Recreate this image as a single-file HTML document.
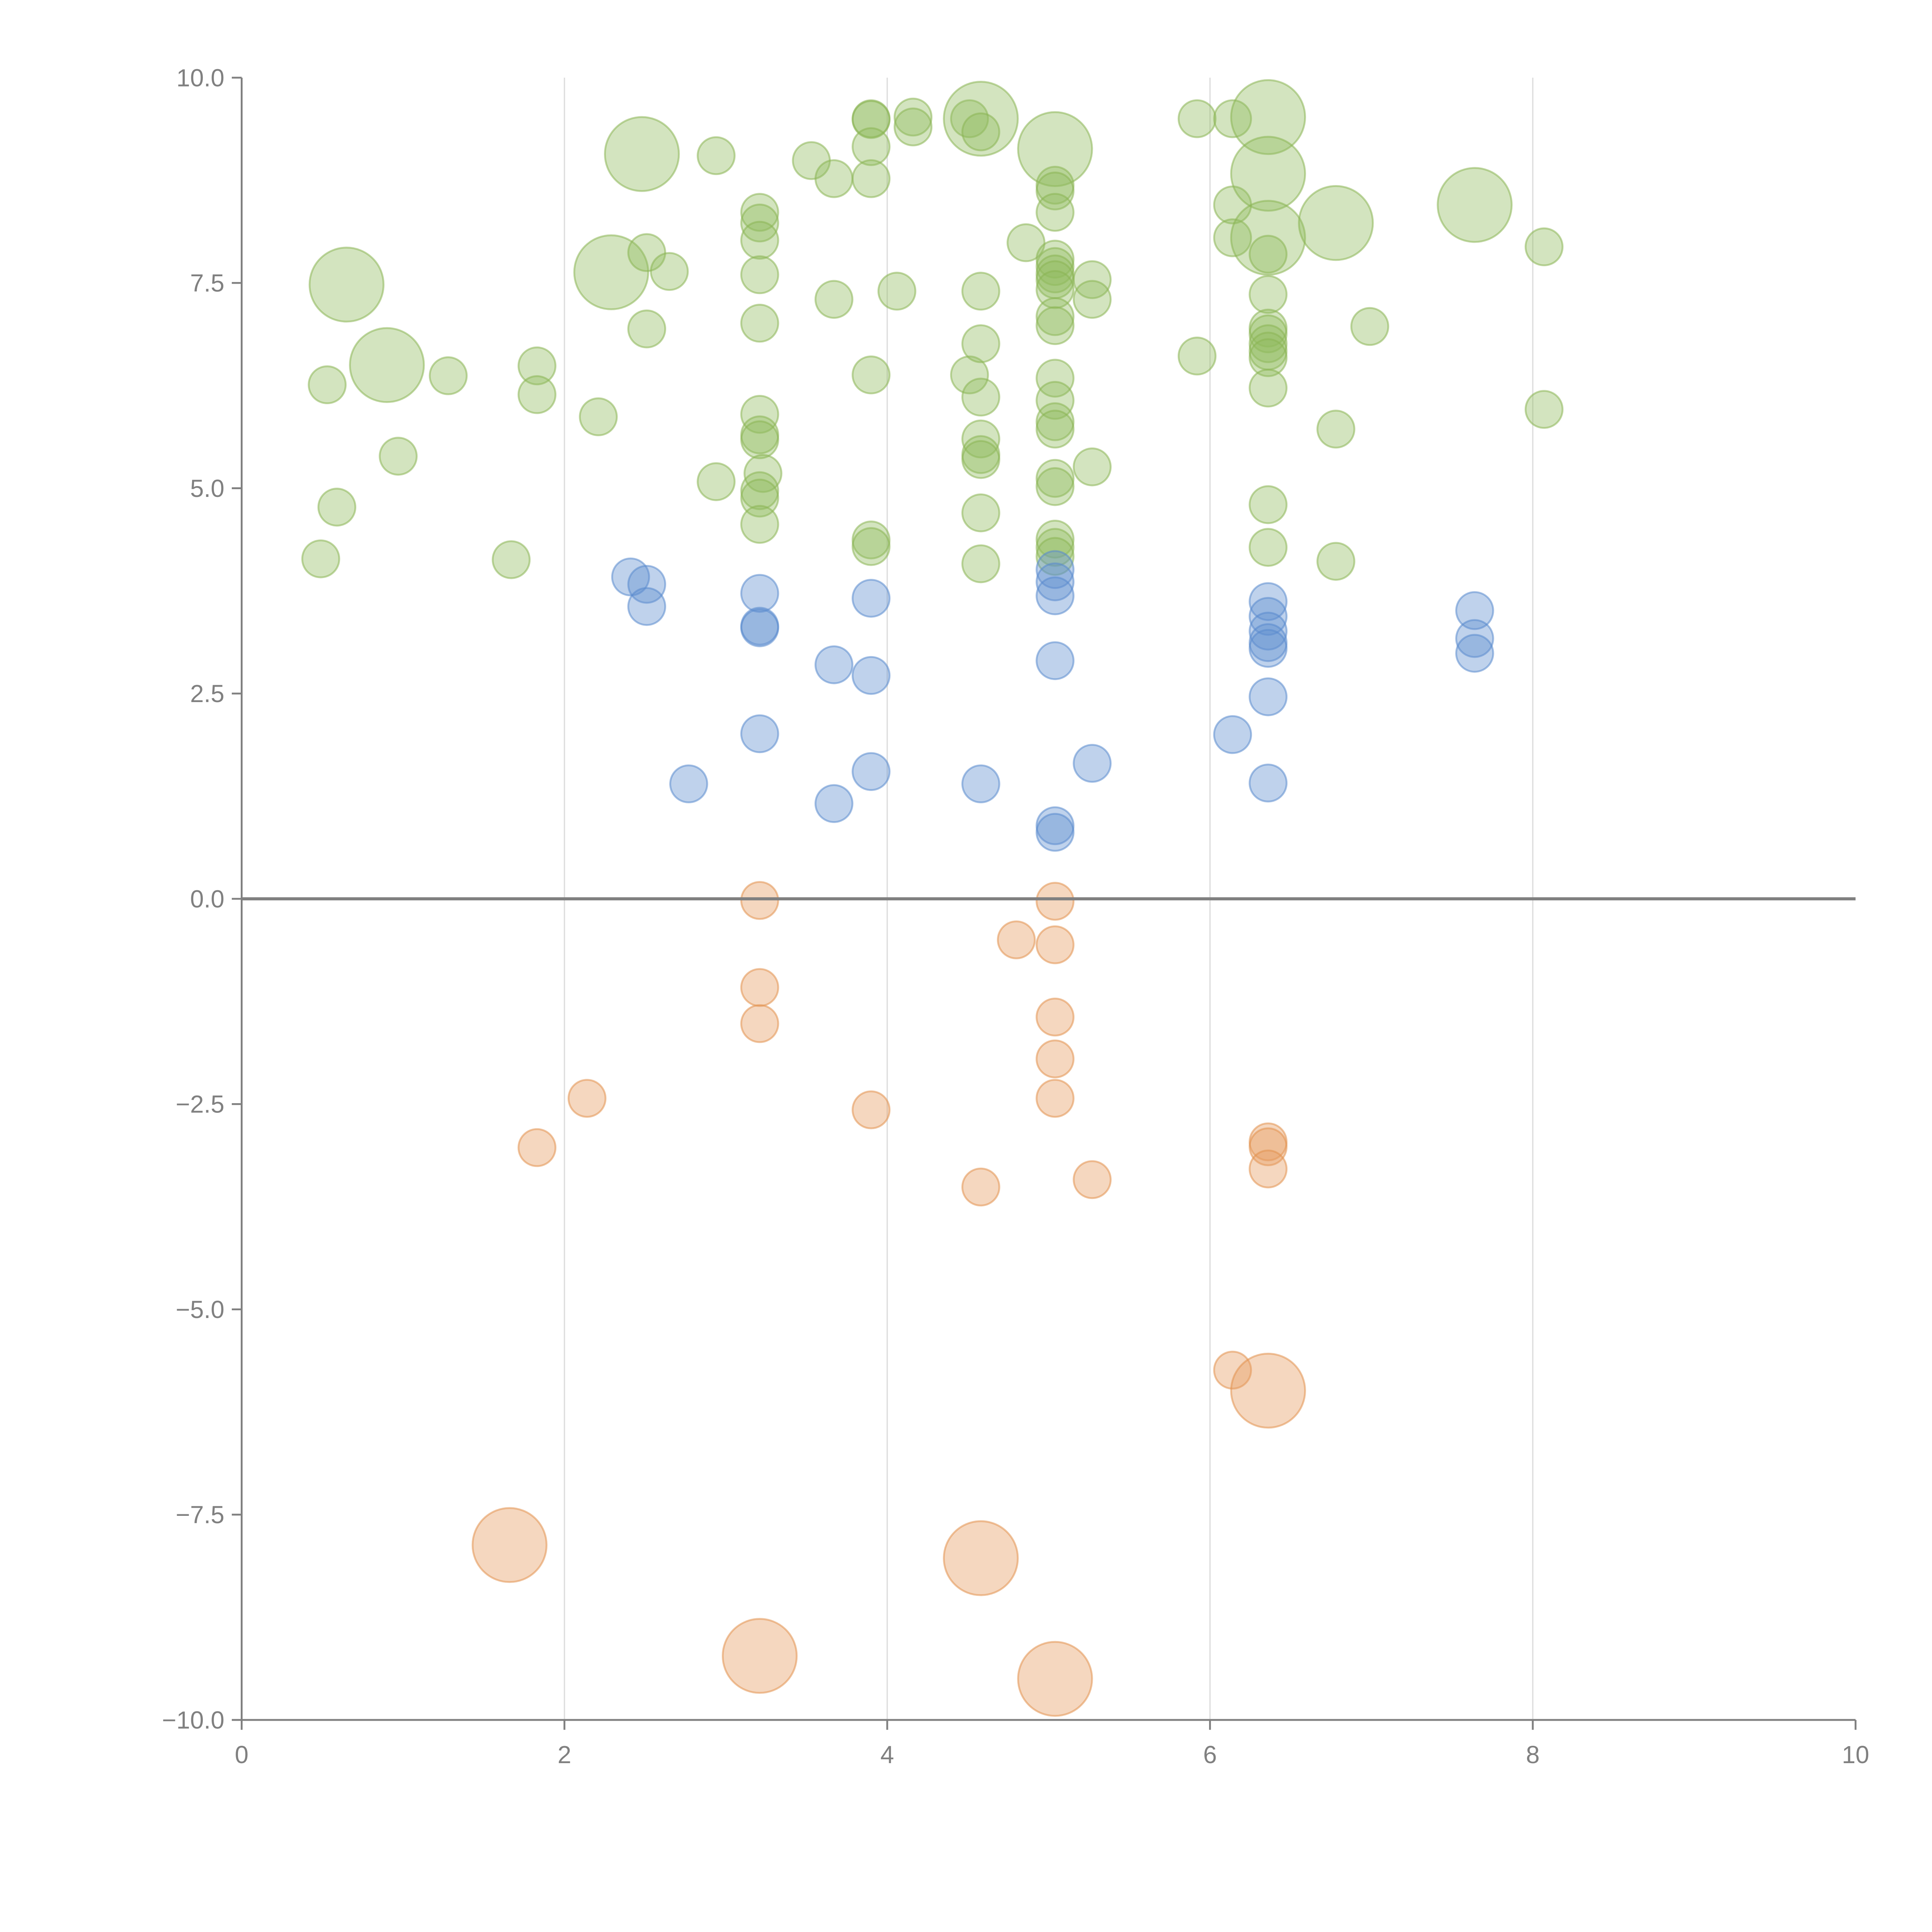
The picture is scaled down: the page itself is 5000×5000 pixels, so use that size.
<!DOCTYPE html>
<html><head><meta charset="utf-8"><style>html,body{margin:0;padding:0;background:#fff}svg{display:block}</style></head>
<body>
<svg id="chart" width="5000" height="5000" viewBox="0 0 1567 1567" xmlns="http://www.w3.org/2000/svg" font-family="Liberation Sans, sans-serif">
<g id="grid"></g>
<g id="marks"></g>
<g id="axes"></g>
</svg>
<script>
const xTicks=[0,2,4,6,8,10];
const xTickLabels=["0","2","4","6","8","10"];
const yTicks=[10,7.5,5,2.5,0,-2.5,-5,-7.5,-10];
const yTickLabels=["10.0","7.5","5.0","2.5","0.0","\u22122.5","\u22125.0","\u22127.5","\u221210.0"];
const gx=[0.49,0.59,0.65,0.53,0.9,0.97,1.28,1.67,1.83,1.83,2.21,2.29,2.48,2.51,2.51,2.65,2.94,2.94,3.21,3.21,3.21,3.21,3.21,3.21,3.21,3.21,3.23,3.21,3.21,3.21,3.53,3.67,3.67,3.9,3.9,3.9,3.9,3.9,3.9,3.9,4.06,4.16,4.16,4.51,4.51,4.58,4.58,4.58,4.58,4.58,4.58,4.58,4.58,4.58,4.58,4.86,5.04,5.04,5.04,5.04,5.04,5.04,5.04,5.04,5.04,5.04,5.04,5.04,5.04,5.04,5.04,5.04,5.04,5.04,5.04,5.04,5.27,5.27,5.27,5.92,5.92,6.14,6.14,6.14,6.36,6.36,6.36,6.36,6.36,6.36,6.36,6.36,6.36,6.36,6.36,6.36,6.36,6.78,6.78,6.78,6.99,7.64,8.07,8.07];
const gy=[4.14,4.77,7.48,6.26,6.5,5.39,6.37,4.13,6.49,6.14,5.87,7.63,9.07,7.87,6.94,7.64,5.08,9.05,8.36,8.23,8.02,7.6,7.01,5.9,5.65,5.59,5.18,4.97,4.88,4.56,8.99,8.77,7.3,9.5,9.49,9.16,8.77,6.38,4.37,4.29,7.4,9.52,9.4,9.5,6.38,9.5,9.34,7.4,6.76,6.11,5.6,5.41,5.35,4.7,4.08,7.99,9.13,8.69,8.62,8.36,7.79,7.7,7.61,7.54,7.42,7.09,6.98,6.34,6.07,5.81,5.72,5.12,5.02,4.38,4.28,4.17,7.54,7.3,5.26,9.5,6.61,9.5,8.45,8.05,9.52,8.83,8.05,7.85,7.36,6.95,6.88,6.76,6.67,6.59,6.22,4.8,4.28,8.23,5.72,4.11,6.97,8.45,7.94,5.96];
const gs=[1,1,4,1,4,1,1,1,1,1,1,4,4,1,1,1,1,1,1,1,1,1,1,1,1,1,1,1,1,1,1,1,1,1,1,1,1,1,1,1,1,1,1,1,1,4,1,1,1,1,1,1,1,1,1,1,4,1,1,1,1,1,1,1,1,1,1,1,1,1,1,1,1,1,1,1,1,1,1,1,1,1,1,1,4,4,4,1,1,1,1,1,1,1,1,1,1,4,1,1,1,4,1,1];
const bx=[2.41,2.51,2.51,2.77,3.21,3.21,3.21,3.21,3.67,3.67,3.9,3.9,3.9,4.58,5.04,5.04,5.04,5.04,5.04,5.04,5.27,6.14,6.36,6.36,6.36,6.36,6.36,6.36,6.36,7.64,7.64,7.64];
const by=[3.92,3.83,3.56,1.4,3.72,3.32,3.3,2.01,2.85,1.16,3.66,2.72,1.55,1.4,4.01,3.86,3.69,2.9,0.89,0.81,1.65,2.0,3.62,3.44,3.26,3.12,3.05,2.46,1.41,3.51,3.17,2.99];
const bs=[1,1,1,1,1,1,1,1,1,1,1,1,1,1,1,1,1,1,1,1,1,1,1,1,1,1,1,1,1,1,1,1];
const ox=[3.21,3.21,3.21,2.14,1.83,3.9,4.58,4.8,5.04,5.04,5.04,5.04,5.04,5.27,6.14,6.36,6.36,6.36,6.36,1.66,4.58,3.21,5.04];
const oy=[-0.02,-1.08,-1.52,-2.43,-3.03,-2.57,-3.51,-0.5,-0.03,-0.56,-1.44,-1.95,-2.43,-3.42,-5.74,-2.96,-3.02,-3.29,-5.99,-7.87,-8.03,-9.22,-9.5];
const os=[1,1,1,1,1,1,1,1,1,1,1,1,1,1,1,1,1,1,4,4,4,4,4];
const NS="http://www.w3.org/2000/svg";
const X0=196,X1=1505,Y0=1395,Y1=63;
function sx(v){return X0+(v-0)/(10-0)*(X1-X0);}
function sy(v){return Y0-(v+10)/20*(Y0-Y1);}
function mk(t,a,p){const e=document.createElementNS(NS,t);for(const k in a)e.setAttribute(k,a[k]);p.appendChild(e);return e;}
const grid=document.getElementById('grid'),marks=document.getElementById('marks'),axes=document.getElementById('axes');
xTicks.forEach(function(t){if(t===0||t===10)return;
 const l=mk('line',{x1:sx(t),x2:sx(t),y1:Y1,y2:Y0,stroke:'#dcdcdc','stroke-width':1},grid);
 
 });
function series(xs,ys,ss,fill,stroke,name){
 const g=mk('g',{},marks);
 
 
 xs.forEach(function(x,i){
  const c=mk('circle',{cx:sx(x),cy:sy(ys[i]),r:15*Math.sqrt(ss[i]),fill:fill,'fill-opacity':0.4,stroke:stroke,'stroke-opacity':0.55,'stroke-width':1.5},g);
  
  
 });
}
series(gx,gy,gs,'#92bb5e','#8ab454','green');
series(bx,by,bs,'#5f8fcf','#5a8ace','blue');
series(ox,oy,os,'#e59a5f','#e2914f','orange');
const zl=mk('line',{x1:X0,x2:X1,y1:sy(0),y2:sy(0),stroke:'#808080','stroke-width':2.5},axes);


const ya=mk('line',{x1:X0,x2:X0,y1:Y1,y2:Y0,stroke:'#808080','stroke-width':1.5},axes);


const xa=mk('line',{x1:X0,x2:X1,y1:Y0,y2:Y0,stroke:'#808080','stroke-width':1.5},axes);


xTicks.forEach(function(t,i){
 mk('line',{x1:sx(t),x2:sx(t),y1:Y0,y2:Y0+8,stroke:'#808080','stroke-width':1.5},axes);
 const tx=mk('text',{x:sx(t),y:Y0+35,'text-anchor':'middle','font-size':20,fill:'#808080'},axes);
 tx.textContent=xTickLabels[i];
 
 
});
yTicks.forEach(function(t,i){
 mk('line',{x1:X0-8,x2:X0,y1:sy(t),y2:sy(t),stroke:'#808080','stroke-width':1.5},axes);
 const tx=mk('text',{x:X0-14,y:sy(t)+7,'text-anchor':'end','font-size':20,fill:'#808080'},axes);
 tx.textContent=yTickLabels[i];
 
 
});
</script>
</body></html>
